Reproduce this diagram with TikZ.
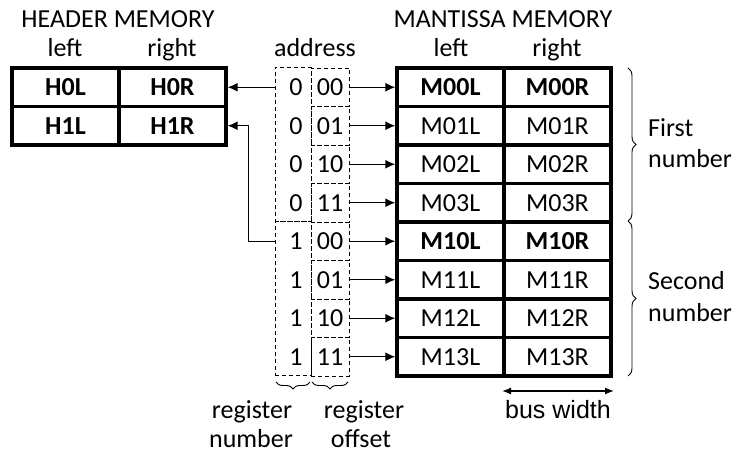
\documentclass[tikz,border=0pt]{standalone}
\usepackage{fontspec}
\setmainfont{Carlito}
\newfontfamily\arialfont{Liberation Sans}
\usetikzlibrary{arrows.meta,decorations.pathreplacing,calc}

\tikzset{
  txt/.style={font=\fontsize{26}{30}\selectfont},
  cell/.style={draw, line width=3.2pt, minimum width=107pt, minimum height=38.5pt,
               inner sep=0pt, anchor=center, txt},
  bcell/.style={cell, font=\fontsize{26}{30}\selectfont\bfseries},
  offbox/.style={draw, line width=0.8pt, minimum width=38pt, minimum height=38.5pt,
                 inner sep=0pt, dash pattern=on 4pt off 3pt, txt},
  regbox/.style={draw, line width=0.8pt, minimum width=36pt, minimum height=154pt,
                 inner sep=0pt, dash pattern=on 4pt off 3pt},
  arr/.style={line width=1.4pt, -{Latex[length=10pt,width=9pt]}},
  lbl/.style={inner sep=0pt, anchor=base, txt},
  brc/.style={decorate, line width=0.9pt},
}

\begin{document}
\begin{tikzpicture}[x=1pt,y=-1pt]
\useasboundingbox (0,0) rectangle (739,454);

% headings
\node[lbl] (hmem) at (118,28) {HEADER MEMORY};
\node[lbl] (hleft) at (65,57) {left};
\node[lbl] (hright) at (172,57) {right};
\node[lbl] (addr) at (315,57) {address};
\node[lbl] (mmem) at (503,28) {MANTISSA MEMORY};
\node[lbl] (mleft) at (451,57) {left};
\node[lbl] (mright) at (557,57) {right};

% header memory
\node[bcell] (h0l) at (65.5,87.25) {H0L};
\node[bcell] (h0r) at (172.5,87.25) {H0R};
\node[bcell] (h1l) at (65.5,125.75) {H1L};
\node[bcell] (h1r) at (172.5,125.75) {H1R};

% mantissa memory
\foreach \i/\lab/\st in {0/00/bcell,1/01/cell,2/02/cell,3/03/cell,4/10/bcell,5/11/cell,6/12/cell,7/13/cell}{
  \node[\st] (m\i l) at (450.5,87.25+38.5*\i) {M\lab L};
  \node[\st] (m\i r) at (557.5,87.25+38.5*\i) {M\lab R};
}

% address: register number and offset
\node[regbox] (r0) at (293,144.5) {};
\node[regbox] (r1) at (293,298.5) {};
\foreach \i/\n/\o in {0/0/00,1/0/01,2/0/10,3/0/11,4/1/00,5/1/01,6/1/10,7/1/11}{
  \node[offbox] (o\i) at (330,87.25+38.5*\i) {\o};
  \node[inner sep=0pt, txt] (n\i) at (296,87.25+38.5*\i) {\n};
  \draw[arr] (o\i.east) -- (m\i l.west);
}

% header pointers
\draw[arr] (r0.west |- n0) -- (h0r.east);
\draw[arr] (r1.west |- n4) -| ([xshift=21pt]h1r.east) -- (h1r.east);

% number braces
\draw[brc, decoration={brace, amplitude=8pt}] (628,68) -- (628,221);
\draw[brc, decoration={brace, amplitude=8pt}] (628,221) -- (628,376);
\node[lbl, anchor=base west] (first) at (648,137) {First};
\node[lbl, anchor=base west] (firstn) at (648,168) {number};
\node[lbl, anchor=base west] (second) at (648,290) {Second};
\node[lbl, anchor=base west] (secondn) at (648,322) {number};

% field braces
\draw[brc, decoration={brace, amplitude=7pt}] (310,382) -- (276,382);
\draw[brc, decoration={brace, amplitude=7pt}] (348,382) -- (312,382);
\node[lbl] (rn1) at (252,418) {register};
\node[lbl] (rn2) at (251,447) {number};
\node[lbl] (ro1) at (364,418) {register};
\node[lbl] (ro2) at (361,447) {offset};

% bus width
\coordinate (bw0) at (502,391);
\coordinate (bw1) at (614,391);
\draw[line width=1.3pt, {Latex[length=9pt,width=7pt]}-{Latex[length=9pt,width=7pt]}] (bw0) -- (bw1);
\node[lbl, font=\arialfont\fontsize{25}{29}\selectfont] (bus) at (558,418) {bus width};
\end{tikzpicture}
\end{document}
